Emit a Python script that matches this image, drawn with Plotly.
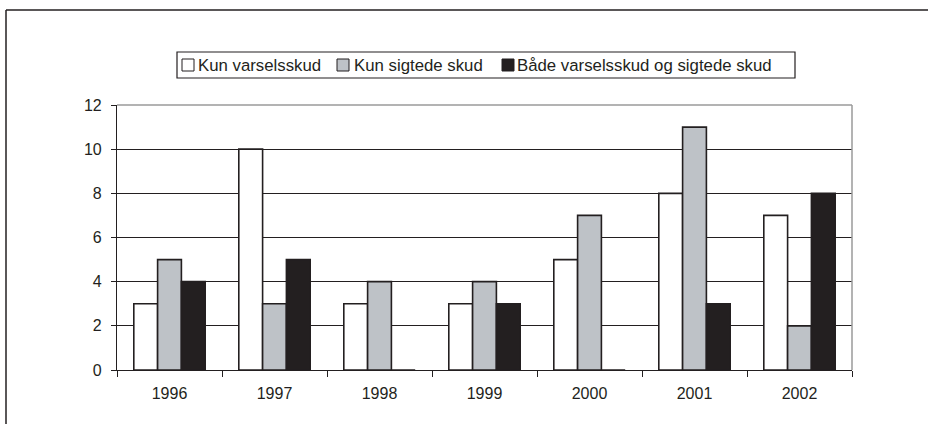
import plotly.graph_objects as go

years = ["1996", "1997", "1998", "1999", "2000", "2001", "2002"]
kun_varsel = [3, 10, 3, 3, 5, 8, 7]
kun_sigtede = [5, 3, 4, 4, 7, 11, 2]
begge = [4, 5, 0, 3, 0, 3, 8]
series_names = ["Kun varselsskud", "Kun sigtede skud", "Både varselsskud og sigtede skud"]
series_colors = ["#FFFFFF", "#BEC2C7", "#231F20"]
y_ticks = [0, 2, 4, 6, 8, 10, 12]

W, H = 928, 424
L, R, T, B = 117, 852, 105, 370  # plot area in pixels


def px(x):
    return (x - L) / (R - L)


def py(y):
    return (B - y) / (B - T)


fig = go.Figure()
for name, vals, col in zip(series_names, [kun_varsel, kun_sigtede, begge], series_colors):
    fig.add_trace(go.Bar(
        x=years, y=vals, name=name,
        marker=dict(color=col, line=dict(color="#231F20", width=1.6)),
        showlegend=False,
    ))

font = "Liberation Sans, Arial, sans-serif"
fig.update_layout(
    width=W, height=H,
    margin=dict(l=L, r=W - R, t=T, b=H - B, pad=0),
    paper_bgcolor="white", plot_bgcolor="white",
    barmode="group", bargap=0.32, bargroupgap=0,
    font=dict(family=font, size=16, color="#231F20"),
    xaxis=dict(
        type="category", showline=True, linecolor="#231F20", linewidth=1.2,
        ticks="outside", tickson="boundaries", ticklen=6, tickcolor="#231F20",
        showgrid=False, tickfont=dict(size=16), ticklabelstandoff=9,
    ),
    yaxis=dict(
        range=[0, 12], tickvals=y_ticks, showline=True, linecolor="#231F20", linewidth=1.2,
        ticks="outside", ticklen=5, tickcolor="#231F20",
        showgrid=True, gridcolor="#231F20", gridwidth=1, zeroline=False,
        tickfont=dict(size=16), ticklabelstandoff=6,
    ),
)

shapes = []
# plot area top / right border (gray)
shapes.append(dict(type="line", xref="paper", yref="paper", x0=0, x1=1, y0=1, y1=1,
                   line=dict(color="#9A9A9A", width=1.5), layer="above"))
shapes.append(dict(type="line", xref="paper", yref="paper", x0=1, x1=1, y0=0, y1=1,
                   line=dict(color="#9A9A9A", width=1.5), layer="above"))
# outer frame (left and top)
shapes.append(dict(type="line", xref="paper", yref="paper", x0=px(6), x1=px(6), y0=py(10), y1=py(430),
                   line=dict(color="#231F20", width=1.5)))
shapes.append(dict(type="line", xref="paper", yref="paper", x0=px(6), x1=px(935), y0=py(10), y1=py(10),
                   line=dict(color="#231F20", width=1.5)))
# legend box
shapes.append(dict(type="rect", xref="paper", yref="paper", x0=px(177), x1=px(795), y0=py(78), y1=py(52),
                   line=dict(color="#231F20", width=1.2), fillcolor="white"))
sq_x = [182, 337, 502]
txt_x = [196, 352, 515]
annotations = []
for i, (name, col) in enumerate(zip(series_names, series_colors)):
    shapes.append(dict(type="rect", xref="paper", yref="paper",
                       x0=px(sq_x[i]), x1=px(sq_x[i] + 12), y0=py(71), y1=py(59),
                       line=dict(color="#231F20", width=1), fillcolor=col))
    annotations.append(dict(xref="paper", yref="paper", x=px(txt_x[i]), y=py(65.5),
                            xanchor="left", yanchor="middle", showarrow=False, text=name,
                            font=dict(family=font, size=16.8, color="#231F20")))
fig.update_layout(shapes=shapes, annotations=annotations)

fig.write_html("out.html", config={"displayModeBar": False},
               post_script="document.body.style.margin='0';document.body.style.overflow='hidden';")
